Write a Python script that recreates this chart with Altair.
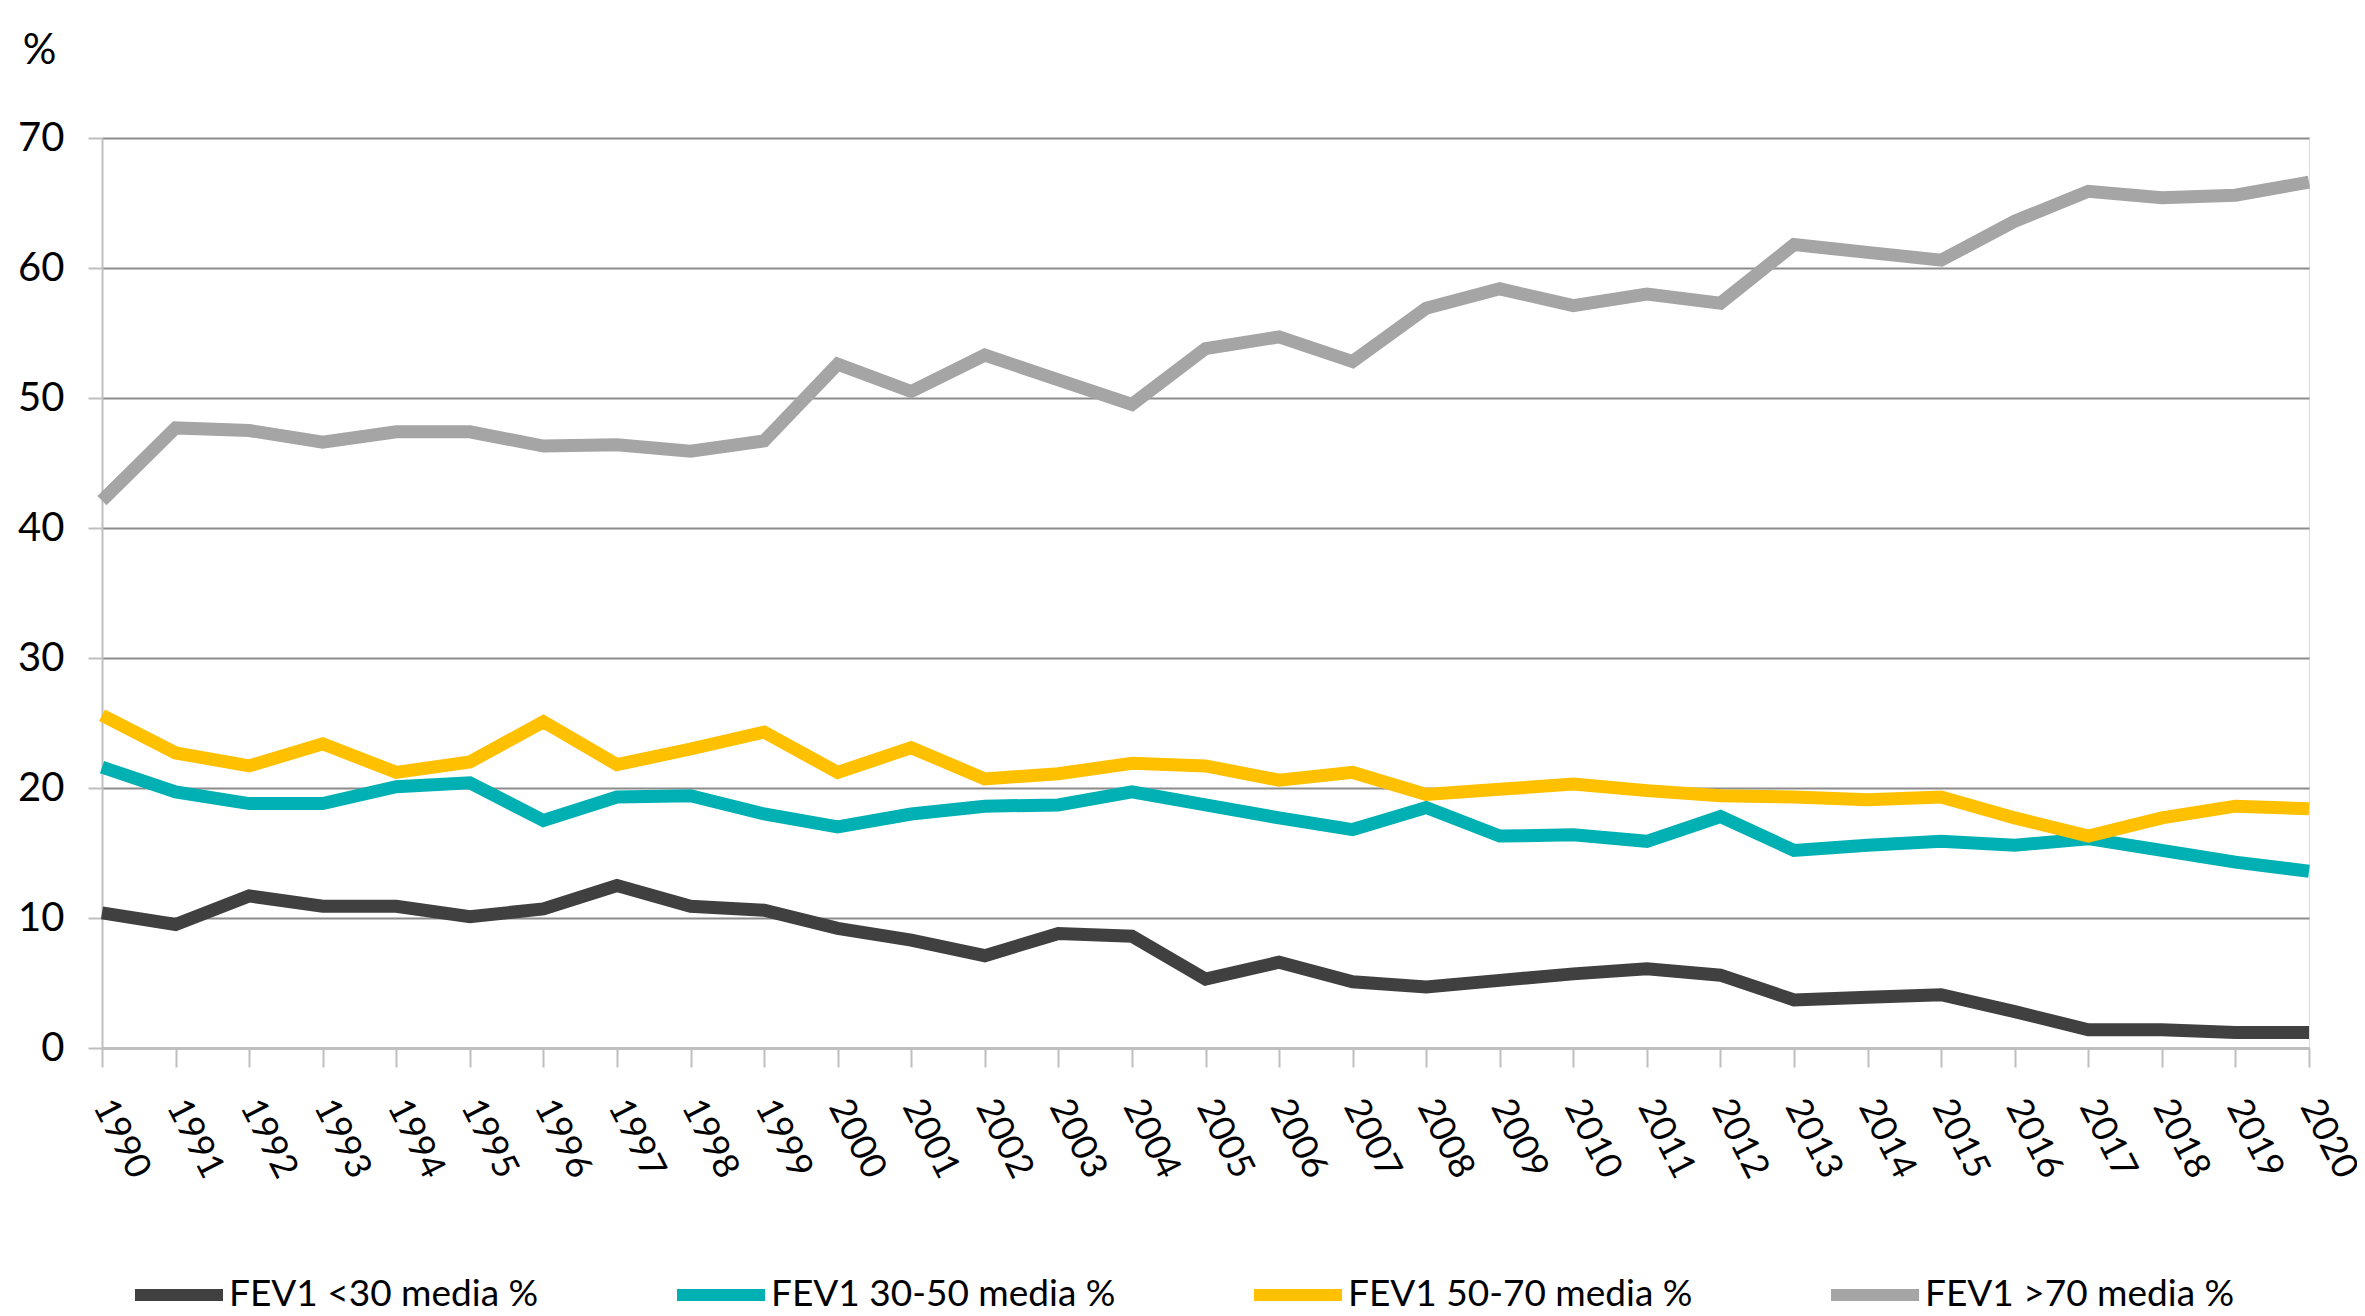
import altair as alt
import pandas as pd

years = list(range(1990, 2021))

series_names = [
    "FEV1 <30 media %",
    "FEV1 30-50 media %",
    "FEV1 50-70 media %",
    "FEV1 >70 media %",
]
series_colors = ["#404040", "#00B0B3", "#FFC000", "#A5A5A5"]

fev_lt30 = [10.4, 9.5, 11.7, 10.9, 10.9, 10.1, 10.7, 12.5, 10.9, 10.6,
            9.2, 8.3, 7.1, 8.8, 8.6, 5.3, 6.6, 5.1, 4.7, 5.2,
            5.7, 6.1, 5.6, 3.7, 3.9, 4.1, 2.8, 1.4, 1.4, 1.2, 1.2]
fev_30_50 = [21.6, 19.7, 18.8, 18.8, 20.1, 20.4, 17.5, 19.3, 19.4, 18.0,
             17.0, 18.0, 18.6, 18.7, 19.7, 18.7, 17.7, 16.8, 18.5, 16.3,
             16.4, 15.9, 17.8, 15.2, 15.6, 15.9, 15.6, 16.1, 15.2, 14.3, 13.6]
fev_50_70 = [25.6, 22.7, 21.7, 23.4, 21.2, 22.0, 25.1, 21.8, 23.0, 24.3,
             21.2, 23.1, 20.7, 21.1, 21.9, 21.7, 20.6, 21.2, 19.5, 19.9,
             20.3, 19.8, 19.4, 19.3, 19.1, 19.3, 17.7, 16.3, 17.7, 18.6, 18.4]
fev_gt70 = [42.1, 47.7, 47.5, 46.6, 47.4, 47.4, 46.3, 46.4, 45.9, 46.7,
            52.6, 50.5, 53.3, 51.4, 49.5, 53.8, 54.7, 52.8, 56.9, 58.4,
            57.1, 58.0, 57.3, 61.8, 61.2, 60.6, 63.6, 65.9, 65.4, 65.6, 66.6]

y_ticks = [0, 10, 20, 30, 40, 50, 60, 70]

rows = []
for name, vals in zip(series_names, [fev_lt30, fev_30_50, fev_50_70, fev_gt70]):
    for yr, v in zip(years, vals):
        rows.append({"year": yr, "value": v, "series": name})
df = pd.DataFrame(rows)

FONT = "Lato"

chart = alt.Chart(df).mark_line(strokeWidth=13, strokeJoin="miter").encode(
    x=alt.X(
        "year:O",
        scale=alt.Scale(type="point", padding=0),
        axis=alt.Axis(
            title=None,
            labelAngle=63,
            labelAlign="left",
            labelBaseline="middle",
            labelFontSize=36,
            labelFont=FONT,
            labelColor="#000000",
            labelPadding=34,
            tickSize=19,
            tickColor="#BFBFBF",
            tickWidth=2,
            domainColor="#BFBFBF",
            domainWidth=3,
            grid=False,
            labelOverlap=False,
        ),
    ),
    y=alt.Y(
        "value:Q",
        scale=alt.Scale(domain=[0, 70], nice=False, zero=True),
        axis=alt.Axis(
            values=y_ticks,
            title="%",
            titleAngle=0,
            titleX=-63,
            titleY=-88,
            titleAlign="center",
            titleBaseline="middle",
            titleFontSize=42,
            titleFont=FONT,
            titleFontWeight="normal",
            titleColor="#000000",
            labelFontSize=40,
            labelFont=FONT,
            labelColor="#000000",
            labelPadding=24,
            tickSize=14,
            tickColor="#BFBFBF",
            tickWidth=2,
            domainColor="#BFBFBF",
            domainWidth=2,
            grid=True,
            gridColor="#8C8C8C",
            gridWidth=2,
        ),
    ),
    color=alt.Color(
        "series:N",
        scale=alt.Scale(domain=series_names, range=series_colors),
        sort=series_names,
        legend=alt.Legend(
            title=None,
            orient="none",
            legendX=27,
            legendY=1107,
            direction="horizontal",
            symbolType="stroke",
            symbolSize=7744,
            symbolStrokeWidth=12,
            labelFontSize=37,
            labelFont=FONT,
            labelColor="#000000",
            labelOffset=0,
            columnPadding=114,
            padding=0,
            labelLimit=1000,
        ),
    ),
    order=alt.Order("year:O"),
).properties(
    width=2207,
    height=910,
    autosize=alt.AutoSizeParams(type="none"),
    padding={"left": 94, "top": 130, "right": 48, "bottom": 260},
).configure_view(
    stroke="#8C8C8C",
    strokeWidth=2,
).configure(background="#FFFFFF")

chart.save("out.html", embed_options={"renderer": "svg", "actions": False})
